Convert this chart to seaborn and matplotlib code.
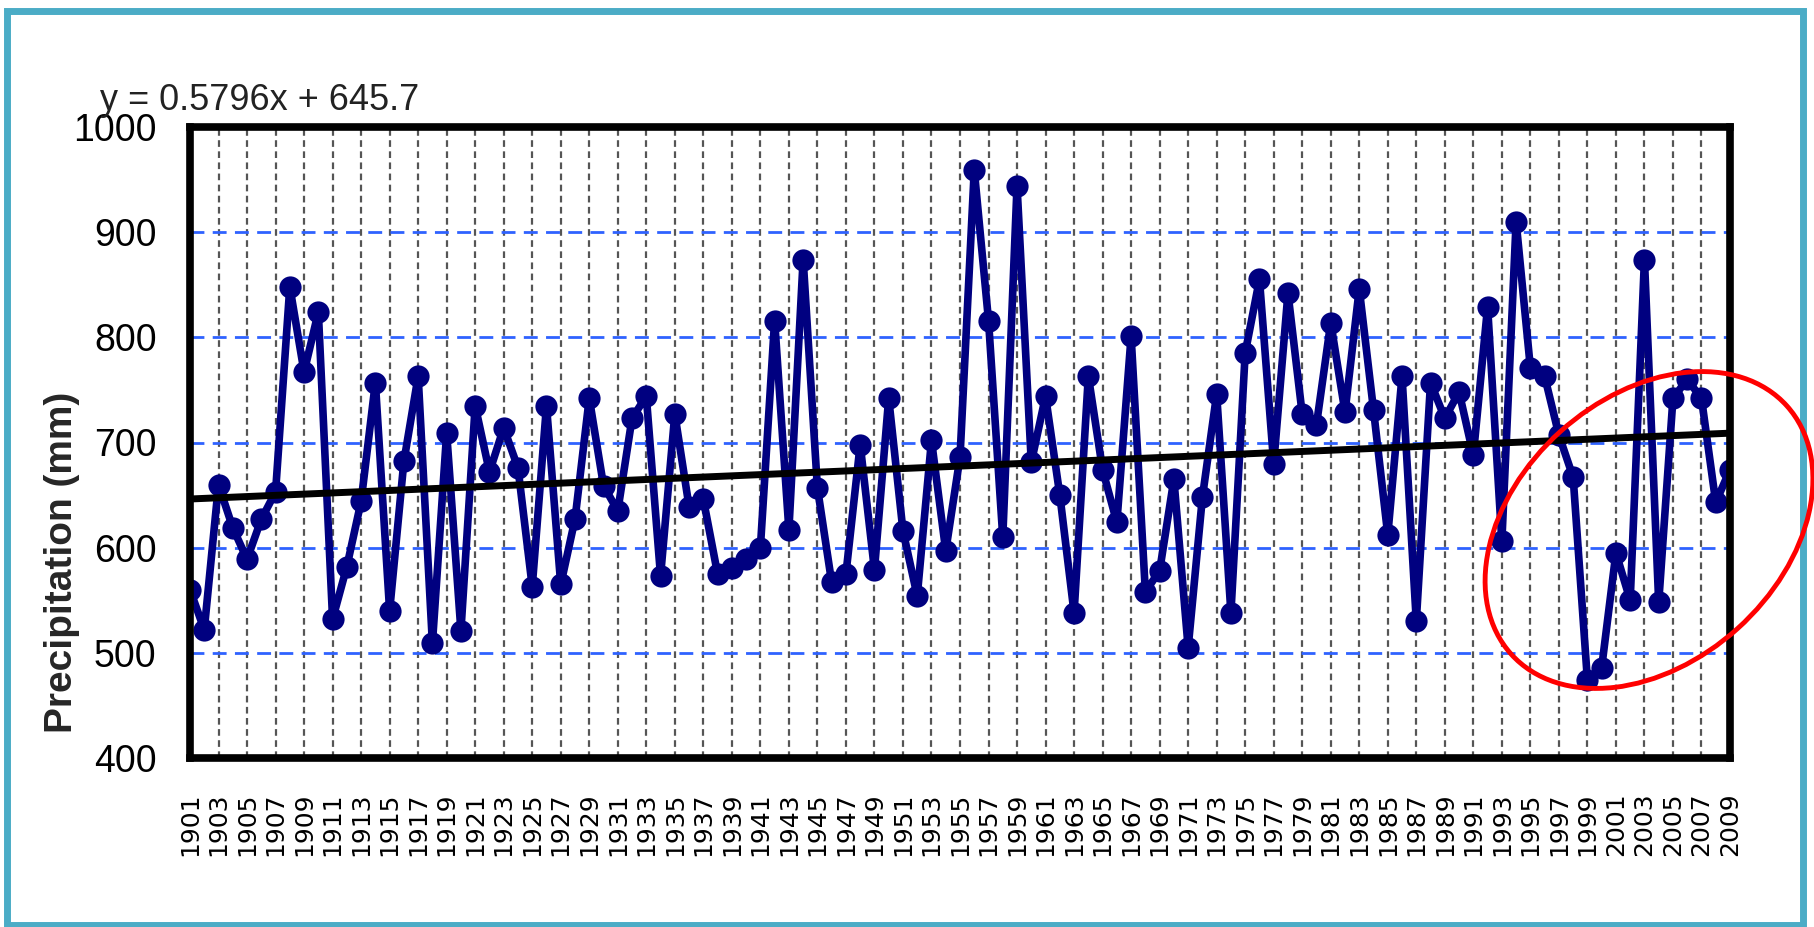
import numpy as np
import matplotlib
matplotlib.use('Agg')
import matplotlib.pyplot as plt
from matplotlib import font_manager
from matplotlib.patches import Ellipse, Rectangle
import seaborn as sns

# annual precipitation (mm), 1901-2009
years = np.arange(1901, 2010)
precip = [
    560, 522, 660, 619, 589, 627, 653, 848, 767, 824,   # 1901-1910
    532, 582, 644, 757, 540, 682, 763, 509, 709, 521,   # 1911-1920
    735, 672, 714, 676, 563, 735, 565, 627, 742, 659,   # 1921-1930
    635, 723, 744, 573, 727, 639, 646, 575, 581, 589,   # 1931-1940
    600, 816, 617, 874, 657, 567, 575, 698, 579, 742,   # 1941-1950
    616, 554, 702, 597, 686, 959, 816, 610, 944, 681,   # 1951-1960
    744, 650, 538, 763, 674, 624, 801, 558, 578, 665,   # 1961-1970
    505, 648, 746, 538, 785, 855, 680, 842, 727, 717,   # 1971-1980
    814, 729, 846, 731, 612, 763, 530, 757, 723, 748,   # 1981-1990
    688, 829, 606, 910, 771, 763, 707, 667, 474, 486,   # 1991-2000
    595, 550, 874, 548, 742, 760, 742, 643, 674,        # 2001-2009
]

# linear trend shown on the chart (x = year index, 1..109)
slope = 0.5796
intercept = 645.7
trend_label = 'y = 0.5796x + 645.7'

y_ticks = [400, 500, 600, 700, 800, 900, 1000]

sns.set_style('white')
names = {f.name for f in font_manager.fontManager.ttflist}
narrow = 'Liberation Sans Narrow' if 'Liberation Sans Narrow' in names else 'Liberation Sans'
plt.rcParams['font.family'] = ['DejaVu Sans']

W, H = 1814, 927
fig = plt.figure(figsize=(W / 100, H / 100), dpi=100)
fig.patch.set_facecolor('white')
ax = fig.add_axes([190 / W, (H - 758) / H, (1730 - 190) / W, (758 - 127) / H])

# precipitation series
sns.lineplot(x=years, y=precip, ax=ax, color='#000080', linewidth=5.5,
             marker='o', markersize=16, markeredgewidth=0, zorder=3)

# trend line from the equation
trend = slope * (years - 1900) + intercept
ax.plot(years, trend, color='black', linewidth=5, zorder=4)

ax.set_xlim(years[0], years[-1])
ax.set_ylim(y_ticks[0], y_ticks[-1])
ax.set_xticks(years[::2])
ax.set_xticklabels([str(y) for y in years[::2]], rotation=90,
                   fontsize=18, family='DejaVu Sans')
ax.set_yticks(y_ticks)
ax.set_yticklabels([str(v) for v in y_ticks], fontsize=27, family=narrow)
ax.set_xlabel('')
ax.set_ylabel('')

# grid lines
ax.xaxis.grid(True, color='#555555', linestyle=(0, (3, 2)), linewidth=1.6)
ax.yaxis.grid(True, color='#2f62ff', linestyle=(0, (5, 3)), linewidth=2)
ax.set_axisbelow(True)

for sp in ax.spines.values():
    sp.set_visible(True)
    sp.set_color('black')
    sp.set_linewidth(5.5)
    sp.set_zorder(5)

ax.tick_params(axis='x', direction='inout', length=14, width=2, pad=18,
               colors='black')
ax.tick_params(axis='y', direction='out', length=10, width=2, pad=14,
               colors='black')

fig.text(62 / W, 1 - 562 / H, 'Precipitation (mm)', rotation=90,
         ha='center', va='center', fontsize=28, fontweight='bold',
         family='Liberation Sans')

fig.text(100 / W, 1 - 100 / H, trend_label, ha='left', va='center',
         fontsize=26, family=narrow, color='#222222')

# outer frame
fig.add_artist(Rectangle((7 / W, 2 / H), (1803 - 7) / W, (922 - 8) / H,
                         transform=fig.transFigure, fill=False,
                         edgecolor='#4BACC6', linewidth=5, zorder=1))

# red highlight ellipse
fig.add_artist(Ellipse((1649 / 100, (H - 530) / 100), 3.71, 2.65, angle=42,
                       transform=fig.dpi_scale_trans, fill=False,
                       edgecolor='red', linewidth=3.5, zorder=10))

fig.savefig('out.png', dpi=100)
